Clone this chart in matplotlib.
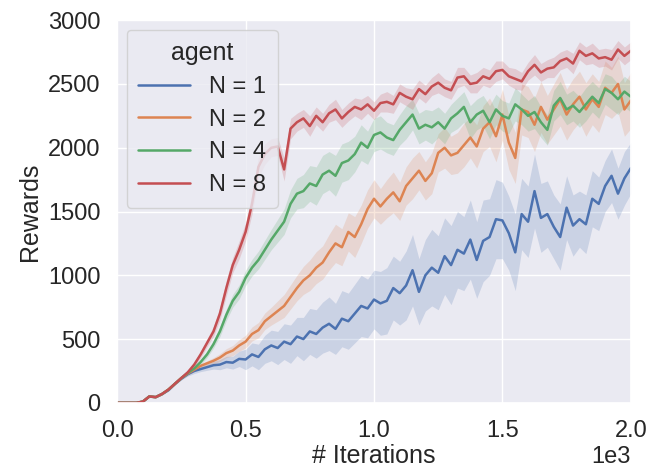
import numpy as np
import matplotlib
matplotlib.use("Agg")
import matplotlib.pyplot as plt
import seaborn as sns

# training iterations (every 25 steps)
iterations = np.arange(0, 2001, 25)

# mean reward per agent count
rew_n1 = [0, 0, 0, 0, 10, 50, 45, 70, 100, 150, 190, 225, 250, 265, 280, 295, 300, 320, 315, 345,
          340, 380, 360, 420, 450, 430, 480, 460, 520, 500, 560, 540, 590, 620, 580, 660, 640, 700, 760, 740,
          810, 780, 800, 900, 860, 920, 1040, 870, 1000, 1060, 1020, 1150, 1080, 1200, 1170, 1280, 1120, 1270, 1300, 1440,
          1430, 1330, 1180, 1480, 1420, 1660, 1450, 1480, 1380, 1300, 1530, 1390, 1440, 1400, 1600, 1560, 1700, 1780, 1640, 1760,
          1840]
rew_n2 = [0, 0, 0, 0, 10, 50, 45, 70, 105, 150, 195, 230, 260, 290, 310, 330, 355, 390, 410, 450,
          480, 540, 570, 640, 680, 720, 760, 830, 900, 960, 1000, 1060, 1100, 1180, 1250, 1220, 1340, 1300, 1400, 1520,
          1600, 1540, 1600, 1650, 1580, 1700, 1760, 1820, 1740, 1800, 1960, 2000, 1940, 1960, 2020, 2080, 2010, 2150, 2200, 2090,
          2260, 2040, 1920, 2300, 2280, 2180, 2320, 2220, 2300, 2380, 2260, 2340, 2400, 2300, 2380, 2320, 2470, 2430, 2500, 2300,
          2370]
rew_n4 = [0, 0, 0, 0, 10, 50, 45, 70, 105, 150, 195, 235, 270, 320, 380, 460, 560, 690, 800, 870,
          980, 1060, 1120, 1200, 1280, 1350, 1420, 1560, 1640, 1660, 1720, 1700, 1790, 1820, 1780, 1880, 1900, 1950, 2040, 2000,
          2100, 2120, 2080, 2060, 2140, 2200, 2260, 2150, 2180, 2160, 2200, 2150, 2230, 2270, 2320, 2200, 2260, 2290, 2200, 2300,
          2250, 2230, 2340, 2300, 2250, 2280, 2200, 2140, 2330, 2390, 2300, 2330, 2280, 2340, 2400, 2350, 2460, 2430, 2380, 2440,
          2400]
rew_n8 = [0, 0, 0, 0, 10, 50, 45, 70, 105, 150, 195, 240, 300, 380, 470, 560, 700, 900, 1080, 1200,
          1340, 1560, 1850, 1950, 2000, 2010, 1830, 2150, 2200, 2230, 2170, 2250, 2200, 2270, 2300, 2230, 2280, 2320, 2300, 2340,
          2290, 2350, 2360, 2340, 2430, 2400, 2380, 2460, 2420, 2480, 2510, 2470, 2450, 2550, 2560, 2500, 2510, 2560, 2540, 2600,
          2610, 2560, 2540, 2520, 2600, 2650, 2590, 2620, 2630, 2680, 2700, 2660, 2760, 2720, 2740, 2700, 2710, 2690, 2770, 2720,
          2760]

# half width of the confidence band
ci_n1 = [0, 0, 0, 0, 5, 5, 5, 8, 8, 10, 10, 15, 20, 20, 25, 30, 40, 45, 50, 60,
         80, 90, 100, 110, 120, 130, 140, 150, 150, 170, 180, 190, 200, 210, 200, 220, 220, 230, 240, 230,
         230, 250, 260, 250, 250, 270, 280, 260, 280, 300, 290, 300, 310, 300, 290, 310, 300, 320, 300, 310,
         300, 290, 300, 280, 280, 290, 270, 260, 250, 260, 250, 240, 220, 230, 220, 210, 200, 210, 200, 210,
         200]
ci_n2 = [0, 0, 0, 0, 5, 5, 5, 8, 8, 10, 10, 12, 15, 15, 20, 25, 30, 35, 40, 45,
         50, 55, 60, 65, 70, 80, 90, 95, 100, 110, 120, 125, 130, 140, 150, 145, 150, 160, 150, 150,
         150, 140, 150, 160, 150, 150, 160, 150, 150, 160, 150, 160, 150, 160, 170, 160, 170, 180, 190, 200,
         200, 210, 200, 200, 200, 210, 200, 190, 200, 210, 200, 200, 200, 210, 200, 200, 210, 200, 220, 210,
         220]
ci_n4 = [0, 0, 0, 0, 5, 5, 5, 8, 8, 10, 10, 12, 15, 20, 25, 30, 40, 45, 50, 55,
         60, 65, 70, 75, 80, 90, 100, 110, 120, 130, 140, 150, 150, 150, 160, 150, 150, 140, 140, 130,
         130, 130, 120, 120, 120, 130, 120, 120, 120, 130, 120, 120, 110, 120, 120, 130, 120, 120, 130, 120,
         120, 120, 130, 120, 120, 130, 120, 120, 120, 130, 120, 120, 120, 130, 120, 120, 120, 130, 120, 120,
         120]
ci_n8 = [0, 0, 0, 0, 5, 5, 5, 8, 8, 10, 10, 15, 20, 25, 30, 40, 50, 60, 60, 70,
         70, 80, 80, 80, 70, 70, 90, 80, 70, 70, 80, 70, 70, 70, 80, 70, 70, 70, 80, 70,
         70, 70, 80, 70, 70, 70, 80, 70, 70, 70, 80, 70, 70, 80, 70, 70, 80, 70, 70, 80,
         70, 70, 80, 70, 70, 80, 70, 70, 80, 70, 70, 80, 70, 70, 80, 70, 70, 80, 70, 70,
         70]

labels = ["N = 1", "N = 2", "N = 4", "N = 8"]

sns.set_theme(style="darkgrid")
plt.rcParams["font.family"] = ["Liberation Sans", "DejaVu Sans"]
colors = sns.color_palette("deep")[:4]

fig, ax = plt.subplots(figsize=(6.51, 4.69), dpi=100)
fig.subplots_adjust(left=0.18, right=0.969, bottom=0.141, top=0.957)

for rew, ci, lab, col in zip([rew_n1, rew_n2, rew_n4, rew_n8], [ci_n1, ci_n2, ci_n4, ci_n8], labels, colors):
    rew = np.array(rew, dtype=float)
    ci = np.array(ci, dtype=float)
    ax.fill_between(iterations, rew - ci, rew + ci, color=col, alpha=0.2, linewidth=0)
    ax.plot(iterations, rew, color=col, linewidth=1.8, label=lab)

ax.set_xlim(0, 2000)
ax.set_ylim(0, 3000)
ax.set_xticks([0, 500, 1000, 1500, 2000])
ax.set_yticks([0, 500, 1000, 1500, 2000, 2500, 3000])
ax.ticklabel_format(style="sci", axis="x", scilimits=(0, 0))
ax.tick_params(labelsize=17, pad=6)
ax.xaxis.get_offset_text().set_fontsize(17)
ax.set_xlabel("# Iterations", fontsize=18, labelpad=2)
ax.set_ylabel("Rewards", fontsize=18, labelpad=4)

leg = ax.legend(title="agent", loc="upper left", fontsize=17, title_fontsize=18,
                labelspacing=0.45, handlelength=2.2, borderpad=0.5, borderaxespad=0.4)

plt.savefig("out.png")
